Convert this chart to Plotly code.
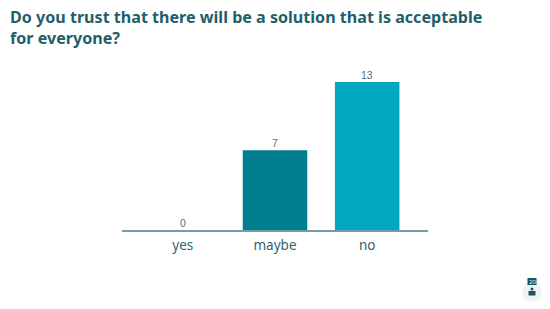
import plotly.graph_objects as go

categories = ["yes", "maybe", "no"]
values = [0, 7, 13]
colors = ["#007d8e", "#007d8e", "#00a8bf"]
title_text = "Do you trust that there will be a solution that is acceptable<br>for everyone?"
badge_text = "20"

W, H = 550, 309
L, R, T, B = 122, 122, 60, 79
pw, ph = W - L - R, H - T - B


def px(x):
    return (x - L) / pw


def py(y):
    return (H - B - y) / ph


fig = go.Figure(go.Bar(
    x=categories, y=values, width=0.7, marker=dict(color=colors, line=dict(width=0)),
    hoverinfo="skip",
))
shapes = [
    dict(type="circle", xref="paper", yref="paper", x0=px(522), x1=px(542), y0=py(302), y1=py(282),
         fillcolor="#eff4f5", line_width=0, layer="below"),
    dict(type="rect", xref="paper", yref="paper", x0=px(527.5), x1=px(536.5), y0=py(285), y1=py(278),
         fillcolor="#17545f", line_width=0),
    dict(type="circle", xref="paper", yref="paper", x0=px(530.5), x1=px(533.5), y0=py(290.5), y1=py(287.5),
         fillcolor="#17545f", line_width=0),
    dict(type="rect", xref="paper", yref="paper", x0=px(528.5), x1=px(535.5), y0=py(295.5), y1=py(291),
         fillcolor="#17545f", line_width=0),
]
value_labels = [
    dict(text=str(v), x=c, y=v, xref="x", yref="y", xanchor="center", yanchor="bottom", yshift=-1,
         showarrow=False, font=dict(family="Liberation Sans, sans-serif", size=10.5, color="#5a6f75"))
    for c, v in zip(categories, values)
]
fig.update_layout(
    width=W, height=H, margin=dict(l=L, r=R, t=T, b=B),
    paper_bgcolor="white", plot_bgcolor="white", showlegend=False, shapes=shapes,
    annotations=value_labels + [
        dict(text=title_text, xref="paper", yref="paper", x=px(8), y=py(4), xanchor="left", yanchor="top",
             align="left", showarrow=False,
             font=dict(family="Noto Sans, sans-serif", size=16.1, color="#1f5f6b", weight="bold")),
        dict(text=badge_text, xref="paper", yref="paper", x=px(532), y=py(281.5), xanchor="center", yanchor="middle",
             showarrow=False, font=dict(family="Open Sans, sans-serif", size=6, color="white")),
    ],
    xaxis=dict(range=[-0.66, 2.66], showline=True, linecolor="#6f9fa8", linewidth=1.5, ticks="",
               ticklabelstandoff=2,
               tickfont=dict(family="Noto Sans, sans-serif", size=13.5, color="#2f6570"), showgrid=False, zeroline=False),
    yaxis=dict(range=[0, 170 * 13 / 148], visible=False, showgrid=False, zeroline=False),
)
fig.write_html("out.html", config=dict(displayModeBar=False),
               post_script="document.body.style.margin='0';document.documentElement.style.overflow='hidden';")
